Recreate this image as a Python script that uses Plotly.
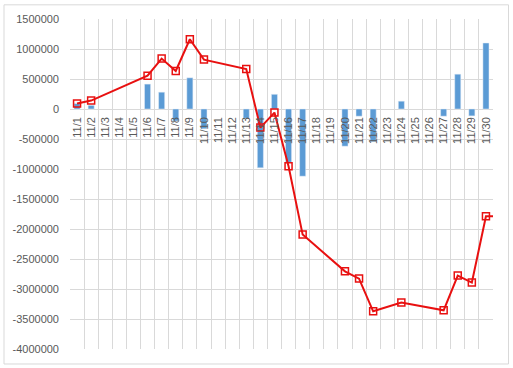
import plotly.graph_objects as go

days = [f"11/{d}" for d in range(1, 31)]
daily = [90000, 60000, 0, 0, 0, 415000, 280000, -200000, 520000, -330000,
         0, 0, -155000, -980000, 245000, -890000, -1120000, 0, 0, -620000,
         -120000, -545000, 0, 130000, 0, 0, -120000, 580000, -115000, 1100000]
line_x = days + ["12/1"]
line_vals = [90000, 140000, None, None, None, 556000, 840000, 633000, 1162000, 823000,
             None, None, 667000, -310000, -60000, -955000, -2093000, None, None, -2705000,
             -2827000, -3372000, None, -3227000, None, None, -3355000, -2777000, -2893000, -1788000,
             -1788000]
y_ticks = [1500000, 1000000, 500000, 0, -500000, -1000000, -1500000, -2000000,
           -2500000, -3000000, -3500000, -4000000]

ymin, ymax = -4000000, 1500000
font = dict(family="Liberation Sans, Arial, sans-serif", size=11, color="#595959")

fig = go.Figure()
fig.add_trace(go.Bar(x=days, y=[v if v != 0 else None for v in daily],
                     marker_color="#5B9BD5", showlegend=False))
fig.add_trace(go.Scatter(x=line_x, y=line_vals, mode="lines+markers", connectgaps=True,
                         line=dict(color="#E81010", width=2),
                         marker=dict(symbol="square-open", size=7, color="#E81010",
                                     line=dict(width=1.5, color="#E81010")),
                         showlegend=False))

# plot-area pixel geometry for border shape
L, R, T, B = 70, 493, 18.7, 349
W, H = R - L, B - T
fig.add_shape(type="rect", xref="paper", yref="paper",
              x0=(4 - L) / W, x1=(508.5 - L) / W,
              y0=(B - 364) / H, y1=(B - 4.5) / H,
              line=dict(color="#D9D9D9", width=1), fillcolor="rgba(0,0,0,0)", layer="below")

fig.update_layout(
    width=513, height=368,
    margin=dict(l=L, r=513 - R, t=T, b=368 - B),
    paper_bgcolor="white", plot_bgcolor="white",
    bargap=0.57, font=font,
    xaxis=dict(type="category", range=[-0.5, 29.5], tickson="boundaries",
               showgrid=True, gridcolor="#D9D9D9", gridwidth=1,
               tickangle=-90, ticks="", showline=False, zeroline=False,
               anchor="free", position=(0 - ymin) / (ymax - ymin),
               automargin=False, tickfont=font, ticklabelstandoff=5,
               categoryarray=line_x, categoryorder="array"),
    yaxis=dict(range=[ymin, ymax], tickvals=y_ticks, ticktext=[str(v) for v in y_ticks],
               showgrid=True, gridcolor="#D9D9D9", zeroline=True, zerolinecolor="#D9D9D9",
               zerolinewidth=1, ticks="", showline=False, automargin=False,
               tickfont=font, ticklabelstandoff=10),
)
fig.write_html("out.html")
